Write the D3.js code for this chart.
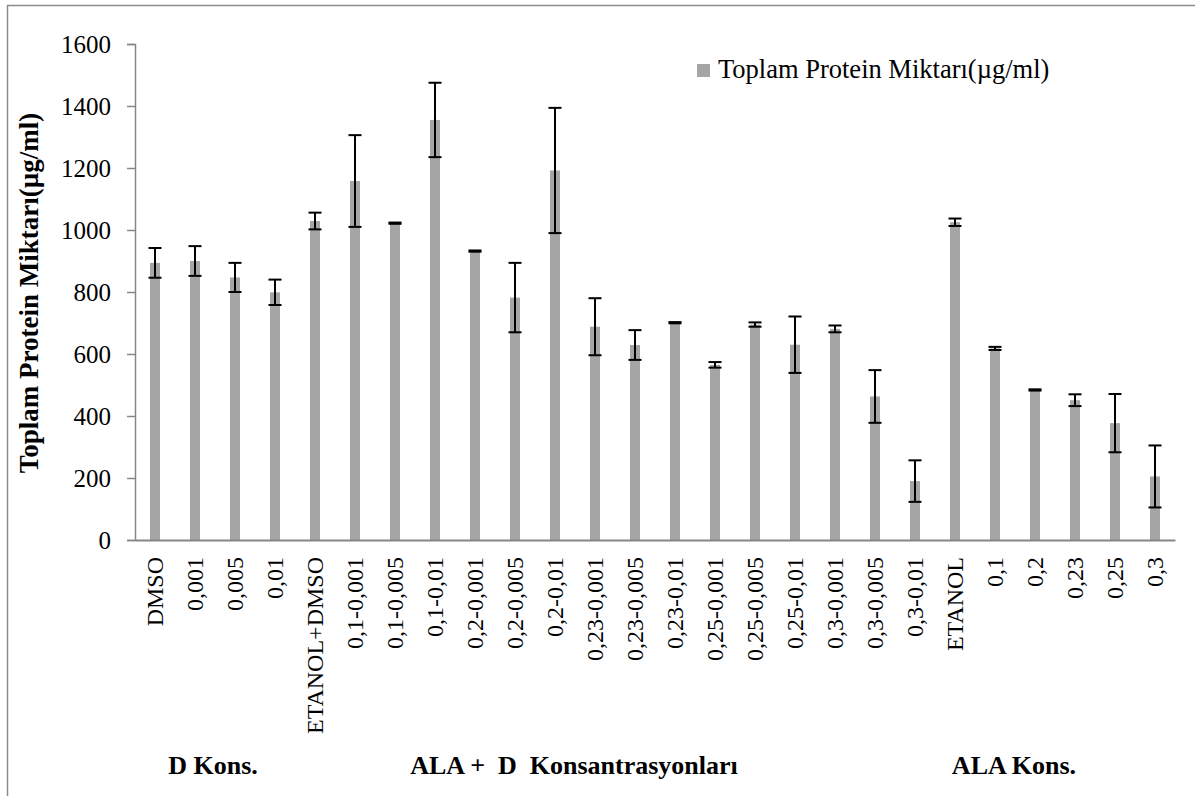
<!DOCTYPE html>
<html>
<head>
<meta charset="utf-8">
<script src="https://cdn.jsdelivr.net/npm/d3@7"></script>
<style>
  html, body { margin: 0; padding: 0; background: #fff; }
  svg { display: block; }
  text { font-family: "Liberation Serif", "Times New Roman", serif; fill: #000; }
</style>
</head>
<body>
<svg id="chart" width="1195" height="796"></svg>
<script>
const categories = ["DMSO", "0,001", "0,005", "0,01", "ETANOL+DMSO",
  "0,1-0,001", "0,1-0,005", "0,1-0,01", "0,2-0,001", "0,2-0,005", "0,2-0,01",
  "0,23-0,001", "0,23-0,005", "0,23-0,01", "0,25-0,001", "0,25-0,005", "0,25-0,01",
  "0,3-0,001", "0,3-0,005", "0,3-0,01", "ETANOL", "0,1", "0,2", "0,23", "0,25", "0,3"];
const values = [894, 900, 847, 799, 1029, 1158, 1022, 1355, 932, 782, 1192,
  688, 629, 701, 565, 695, 630, 681, 463, 190, 1025, 618, 484, 451, 377, 205];
const errors = [48, 48, 47, 41, 27, 148, 2, 120, 2, 112, 202,
  92, 48, 2, 9, 7, 91, 11, 85, 67, 12, 5, 2, 19, 94, 100];
const yTicks = [0, 200, 400, 600, 800, 1000, 1200, 1400, 1600];
const seriesName = "Toplam Protein Miktarı(µg/ml)";
const yTitle = "Toplam Protein Miktarı(µg/ml)";
const groupLabels = ["D Kons.", "ALA +  D  Konsantrasyonları", "ALA Kons."];
const groupCenters = [213, 574, 1014];

const svg = d3.select("#chart");
const mLeft = 135, mRight = 1175, mTop = 44, mBottom = 540;
const serif = '"Liberation Serif", "Times New Roman", serif';

const x = d3.scaleBand().domain(categories).range([mLeft, mRight])
  .paddingInner(0.75).paddingOuter(0.375);
const y = d3.scaleLinear().domain([0, 1600]).range([mBottom, mTop]);

// outer frame (top and left only visible)
svg.append("line").attr("x1", 7).attr("x2", 1195).attr("y1", 5.5).attr("y2", 5.5)
  .attr("stroke", "#8c8c8c").attr("stroke-width", 1.5);
svg.append("line").attr("x1", 7.5).attr("x2", 7.5).attr("y1", 5).attr("y2", 796)
  .attr("stroke", "#8c8c8c").attr("stroke-width", 1.5);

// bars
svg.append("g").selectAll("rect").data(categories).join("rect")
  .attr("x", d => x(d))
  .attr("width", x.bandwidth())
  .attr("y", (d, i) => y(values[i]))
  .attr("height", (d, i) => y(0) - y(values[i]))
  .attr("fill", "#a5a5a5");

// y axis
const yAxis = svg.append("g").attr("transform", `translate(${mLeft},0)`)
  .call(d3.axisLeft(y).tickValues(yTicks).tickSize(8).tickPadding(16).tickFormat(d3.format("d")));
yAxis.select(".domain").attr("stroke", "#868686").attr("stroke-width", 1.5);
yAxis.selectAll(".tick line").attr("stroke", "#868686").attr("stroke-width", 1.5);
yAxis.selectAll(".tick text").style("font-family", serif).attr("font-size", 25).attr("fill", "#000");

// x axis
const xAxis = svg.append("g").attr("transform", `translate(0,${mBottom})`)
  .call(d3.axisBottom(x).tickSize(0).tickPadding(0));
xAxis.select(".domain").attr("stroke", "#868686").attr("stroke-width", 2);
xAxis.selectAll(".tick text")
  .style("font-family", serif).attr("font-size", 24).attr("fill", "#000")
  .attr("transform", "rotate(-90)")
  .attr("x", -17).attr("y", 0).attr("dy", "0.35em")
  .attr("text-anchor", "end");

// error bars
const eg = svg.append("g").attr("stroke", "#000").attr("stroke-width", 2);
categories.forEach((c, i) => {
  const cx = x(c) + x.bandwidth() / 2;
  const y1 = y(values[i] + errors[i]), y2 = y(values[i] - errors[i]);
  eg.append("line").attr("x1", cx).attr("x2", cx).attr("y1", y1).attr("y2", y2);
  eg.append("line").attr("x1", cx - 6.5).attr("x2", cx + 6.5).attr("y1", y1).attr("y2", y1);
  eg.append("line").attr("x1", cx - 6.5).attr("x2", cx + 6.5).attr("y1", y2).attr("y2", y2);
});

// y title
svg.append("text")
  .attr("transform", `translate(38,293) rotate(-90)`)
  .attr("text-anchor", "middle")
  .style("font-family", serif)
  .attr("font-weight", "bold").attr("font-size", 27)
  .text(yTitle);

// legend
const lg = svg.append("g").attr("transform", "translate(697,64)");
lg.append("rect").attr("x", 0).attr("y", 0).attr("width", 13).attr("height", 13).attr("fill", "#a5a5a5");
lg.append("text").attr("x", 21).attr("y", 14).style("font-family", serif).attr("font-size", 26.5).text(seriesName);

// group labels
svg.append("g").selectAll("text").data(groupLabels).join("text")
  .attr("x", (d, i) => groupCenters[i]).attr("y", 774)
  .attr("text-anchor", "middle").style("font-family", serif)
  .attr("font-weight", "bold").attr("font-size", 26)
  .style("white-space", "pre")
  .text(d => d);
</script>
</body>
</html>
